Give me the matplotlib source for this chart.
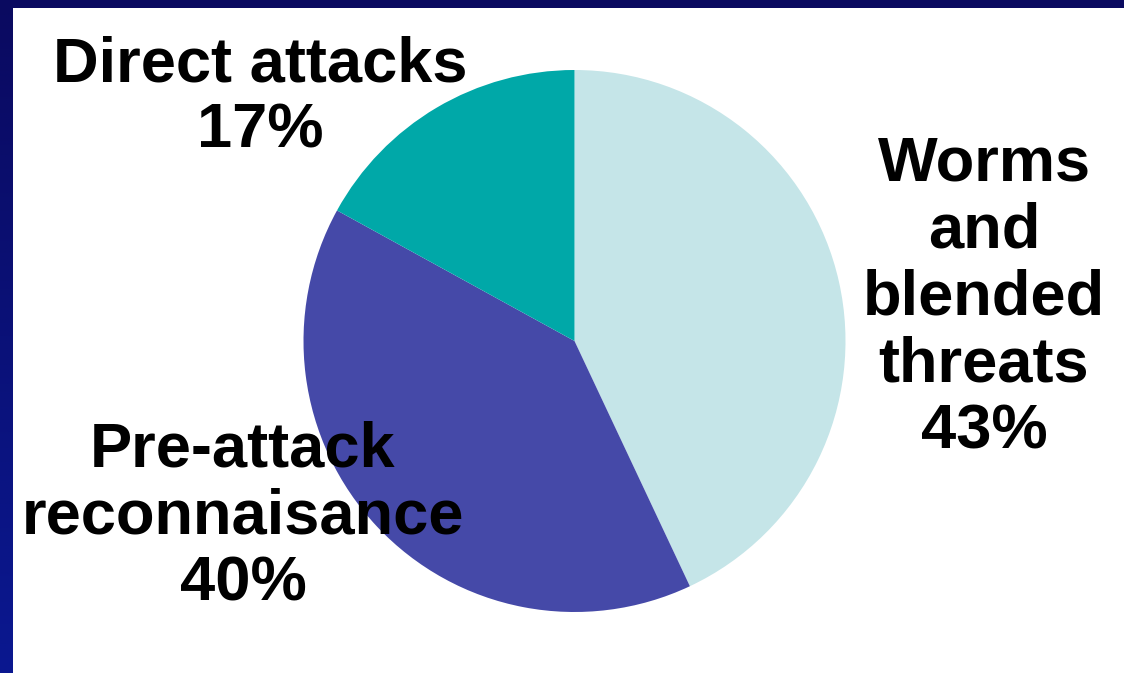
import matplotlib
matplotlib.use("Agg")
import matplotlib.pyplot as plt
import numpy as np
from matplotlib.patches import Rectangle

categories = ["Worms\nand\nblended\nthreats", "Pre-attack\nreconnaisance", "Direct attacks"]
values = [43, 40, 17]
colors = ["#c5e5e8", "#4549a8", "#00a8a8"]

W, H = 1124, 673
fig = plt.figure(figsize=(W / 100, H / 100), dpi=100)
fig.patch.set_facecolor("white")

# pie axes
cx, cy, r = 574.5, 673 - 341, 271
ax = fig.add_axes([(cx - r) / W, (cy - r) / H, 2 * r / W, 2 * r / H])
ax.pie(values, colors=colors, startangle=90, counterclock=False,
       wedgeprops=dict(linewidth=0), radius=1)
ax.set_xlim(-1, 1)
ax.set_ylim(-1, 1)
ax.set_aspect("equal")
ax.axis("off")

# labels
label_pos = [(984, 673 - 298), (243, 673 - 517), (260, 673 - 98)]
for cat, val, (x, y) in zip(categories, values, label_pos):
    fig.text(x / W, y / H, f"{cat}\n{val}%", ha="center", va="center",
             fontsize=45.5, fontweight="bold", family="Liberation Sans",
             linespacing=1.17, color="black")

# border frame
bax = fig.add_axes([0, 0, 1, 1], zorder=-1)
bax.set_xlim(0, W)
bax.set_ylim(0, H)
bax.axis("off")
grad = np.linspace(0, 1, 256).reshape(-1, 1)
top_c = np.array([0x0a, 0x0a, 0x60]) / 255
bot_c = np.array([0x0a, 0x18, 0x90]) / 255
img = top_c[None, None, :] * (1 - grad[..., None]) + bot_c[None, None, :] * grad[..., None]
bax.imshow(img, extent=[0, 13, 0, H], aspect="auto", origin="upper")
bax.add_patch(Rectangle((0, H - 8), W, 8, color="#0a0a60", linewidth=0))

fig.savefig("out.png", dpi=100)
